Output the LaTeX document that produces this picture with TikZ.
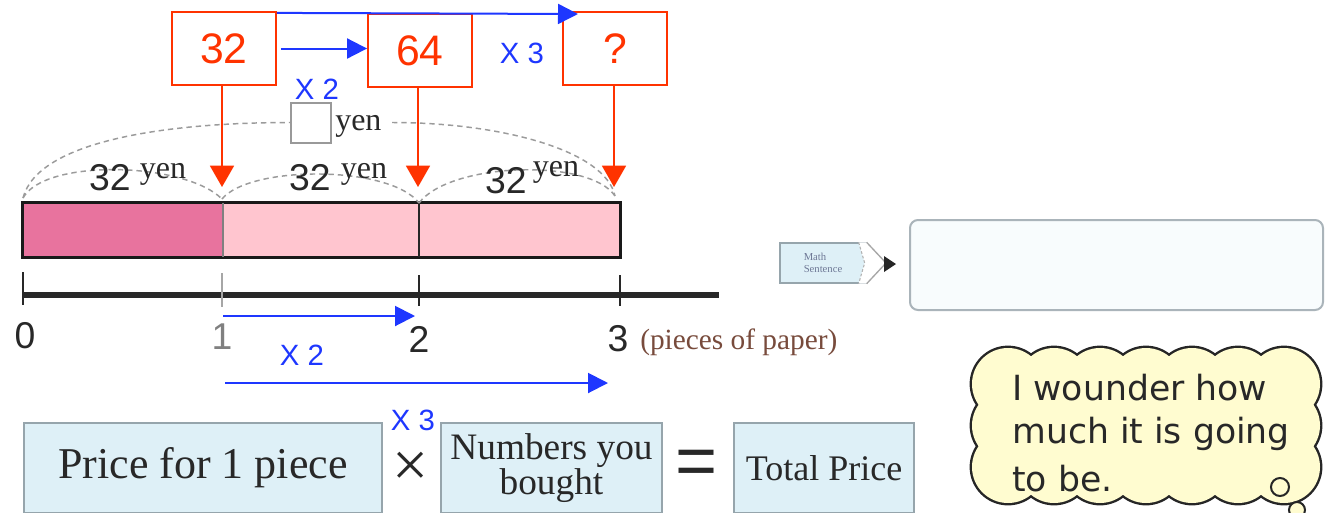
\documentclass[tikz,border=0pt]{standalone}
\usepackage{fontspec}
\setmainfont{Liberation Serif}
\setsansfont{Liberation Sans}
\newfontfamily\djv{DejaVu Sans}
\usetikzlibrary{arrows.meta,calc}
\definecolor{rd}{RGB}{255,51,0}
\definecolor{bl}{RGB}{30,55,255}
\definecolor{pinkD}{RGB}{232,115,158}
\definecolor{pinkL}{RGB}{255,197,207}
\definecolor{boxblue}{RGB}{222,240,247}
\definecolor{boxedge}{RGB}{150,165,172}
\definecolor{cloudy}{RGB}{255,252,208}
\definecolor{arcgray}{RGB}{155,155,155}
\definecolor{txt}{RGB}{40,40,40}
\definecolor{brn}{RGB}{120,75,60}
\definecolor{ansfill}{RGB}{248,252,253}
\definecolor{ansedge}{RGB}{170,180,186}
\definecolor{tagtxt}{RGB}{110,120,150}
\begin{document}
\begin{tikzpicture}[x=0.75pt,y=-0.75pt,
  redbox/.style={draw=rd,line width=1.4pt,text=rd,font=\sffamily\fontsize{32}{32}\selectfont,minimum width=78pt,minimum height=55pt,inner sep=0},
  redarrow/.style={draw=rd,line width=1.2pt,-{Triangle[length=16pt,width=18pt]}},
  bluearrow/.style={draw=bl,line width=1.5pt,-{Triangle[length=15pt,width=15pt]}},
  bluelabel/.style={text=bl,font=\sffamily\fontsize{22}{22}\selectfont,inner sep=0},
  arcline/.style={draw=arcgray,line width=1.1pt,dash pattern=on 4pt off 3pt},
  numlabel/.style={text=txt,font=\sffamily\fontsize{28}{28}\selectfont,inner sep=0},
  yenlabel/.style={text=txt,font=\fontsize{24}{24}\selectfont,inner sep=0},
  barseg/.style={minimum height=40.5pt,inner sep=0},
  tickline/.style={draw=txt,line width=1.6pt},
  formbox/.style={draw=boxedge,fill=boxblue,line width=1.2pt,inner sep=0,minimum height=67.5pt,text=txt},
  cloudtext/.style={font=\djv\fontsize{26}{26}\selectfont,text=txt,inner sep=0,anchor=base west}
]
\useasboundingbox (0,0) rectangle (1325,512);
\clip (0,0) rectangle (1325,512);
\fill[white] (0,0) rectangle (1325,512);

% red boxes
\node[redbox] (b32) at (224,48.5) {32};
\node[redbox] (b64) at (420,50.5) {64};
\node[redbox] (bq) at (615,48.5) {?};

% blue arrows at the top
\coordinate (topend) at (578,14);
\draw[bluearrow] ($(b32.north east)+(0,2)$) -- (topend);
\draw[bluearrow] ([xshift=3pt]b32.east) -- (b32.east -| b64.west);
\node[bluelabel] (x3a) at (522,53) {X 3};
\node[bluelabel] (x2a) at (317,89) {X 2};

% bar
\node[barseg,fill=pinkD,minimum width=150pt] (s1) at (123,230) {};
\node[barseg,fill=pinkL,minimum width=147pt] (s2) at (321,230) {};
\node[barseg,fill=pinkL,minimum width=150.75pt] (s3) at (519.5,230) {};
\draw[black!90,line width=2.2pt] (s1.north west) rectangle (s3.south east);
\draw[gray,line width=1.5pt] (s1.north east) -- (s1.south east);
\draw[black!85,line width=1.5pt] (s2.north east) -- (s2.south east);

% red arrows
\coordinate (t1) at (222,187);
\coordinate (t2) at (418,187);
\coordinate (t3) at (614,187);
\draw[redarrow] (b32.south -| t1) -- (t1);
\draw[redarrow] (b64.south -| t2) -- (t2);
\draw[redarrow] (bq.south -| t3) -- (t3);

% dashed arcs
\coordinate (a0) at (23,198);
\coordinate (a1) at (222,199);
\coordinate (a2) at (419,203);
\coordinate (a3) at (615,196);
\node[draw=gray!80,line width=1.5pt,fill=white,minimum size=30pt,inner sep=0] (sq) at (311,122.5) {};
\node[yenlabel,anchor=base west] (yenq) at (335,130) {yen};
\coordinate (qr) at (392,122.5);
\draw[arcline] (a0) .. controls (38,140) and (170,122.5) .. (sq.west);
\draw[arcline] (qr) .. controls (500,122.5) and (605,150) .. (a3);
\draw[arcline] (a0) .. controls (45,158) and (185,162) .. (a1);
\draw[arcline] (a1) .. controls (250,165) and (390,165) .. (a2);
\draw[arcline] (a2) .. controls (450,162) and (590,158) .. (a3);
\node[numlabel,anchor=base] (l32a) at (110,190) {32};
\node[yenlabel,anchor=base] (ya) at (163,178) {yen};
\node[numlabel,anchor=base] (l32b) at (310,190) {32};
\node[yenlabel,anchor=base] (yb) at (364,178) {yen};
\node[numlabel,anchor=base] (l32c) at (506,193) {32};
\node[yenlabel,anchor=base] (yc) at (556,176) {yen};

% number line
\coordinate (n0) at (23,295);
\coordinate (nend) at (719,295);
\draw[draw=txt,line width=4.5pt] (n0) -- (nend);
\draw[tickline] (23,272) -- (23,305);
\draw[draw=gray!70,line width=1.6pt] (222,273) -- (222,307);
\draw[tickline] (419,275) -- (419,306);
\draw[tickline] (620,275) -- (620,306);
\node[numlabel] (n0l) at (25,336) {0};
\node[numlabel,text=gray] (n1l) at (222,337) {1};
\node[numlabel] (n2l) at (419,339) {2};
\node[numlabel] (n3l) at (618,339) {3};
\node[text=brn,font=\fontsize{22}{22}\selectfont,inner sep=0,anchor=west] (pp) at (640,342) {(pieces of paper)};

% blue arrows below the line
\coordinate (u1s) at (223,316);
\coordinate (u1e) at (415,316);
\draw[bluearrow] (u1s) -- (u1e);
\node[bluelabel] (x2b) at (302,355) {X 2};
\coordinate (u2s) at (225,383);
\coordinate (u2e) at (608,383);
\draw[bluearrow] (u2s) -- (u2e);

% formula
\node[formbox,minimum width=268.5pt,font=\fontsize{33}{33}\selectfont] (f1) at (203,468) {Price for 1 piece};
\node[text=txt,font=\fontsize{48}{48}\selectfont,inner sep=0] (times) at (411,469) {×};
\node[bluelabel] (x3b) at (413,420) {X 3};
\node[formbox,minimum width=165.75pt,align=center,font=\fontsize{28}{24}\selectfont] (f2) at (551.5,468) {Numbers you\\bought};
\node[text=txt,font=\sffamily\fontsize{54}{54}\selectfont,inner sep=0] (eq) at (697,468) {=};
\node[formbox,minimum width=135pt,font=\fontsize{27}{27}\selectfont] (f3) at (824,468) {Total Price};

% math sentence tag
\node[draw=boxedge,fill=boxblue,line width=1pt,minimum width=64.5pt,minimum height=30pt,inner sep=2pt,align=left,text=tagtxt,font=\fontsize{8}{9}\selectfont] (ms) at (823,263) {Math\\Sentence};
\coordinate (mtip) at (886,263);
\fill[white] ($(ms.north east)+(-8,0)$) -- (ms.north east) -- (mtip) -- (ms.south east) -- ($(ms.south east)+(-8,0)$) -- ($(ms.east)+(-2,0)$) -- cycle;
\draw[gray!70,line width=1pt] (ms.north east) -- (mtip) -- (ms.south east);
\draw[gray!60,line width=0.8pt,dash pattern=on 2pt off 1.5pt] ($(ms.north east)+(-8,0)$) -- ($(ms.east)+(-2,0)$) -- ($(ms.south east)+(-8,0)$);
\fill[black!85] (884,256) -- (896,264) -- (884,272) -- cycle;

% answer box
\node[draw=ansedge,fill=ansfill,line width=1.5pt,rounded corners=6pt,minimum width=309.75pt,minimum height=67.5pt] (ans) at (1116.5,265) {};

% thought cloud
\foreach \cx in {1008,1054,1100,1146,1192,1238,1284}{
  \draw[black!85,line width=3.6pt] (\cx,384) circle[radius=36];
  \draw[black!85,line width=3.6pt] (\cx,467) circle[radius=36];}
\foreach \cy in {425.5}{
  \draw[black!85,line width=3.6pt] (1008,\cy) circle[radius=36];
  \draw[black!85,line width=3.6pt] (1284,\cy) circle[radius=36];}
\foreach \cx in {1008,1054,1100,1146,1192,1238,1284}{
  \fill[cloudy] (\cx,384) circle[radius=36];
  \fill[cloudy] (\cx,467) circle[radius=36];}
\fill[cloudy] (1008,425.5) circle[radius=36];
\fill[cloudy] (1284,425.5) circle[radius=36];
\fill[cloudy] (1008,384) rectangle (1284,467);
\draw[black!85,fill=cloudy,line width=1.5pt] (1280,487) circle[radius=9];
\draw[black!85,fill=cloudy,line width=1.5pt] (1297,510) circle[radius=8];
\node[cloudtext] (c1) at (1012,400) {I wounder how};
\node[cloudtext] (c2) at (1012,443) {much it is going};
\node[cloudtext] (c3) at (1012,491) {to be.};
\end{tikzpicture}
\end{document}
